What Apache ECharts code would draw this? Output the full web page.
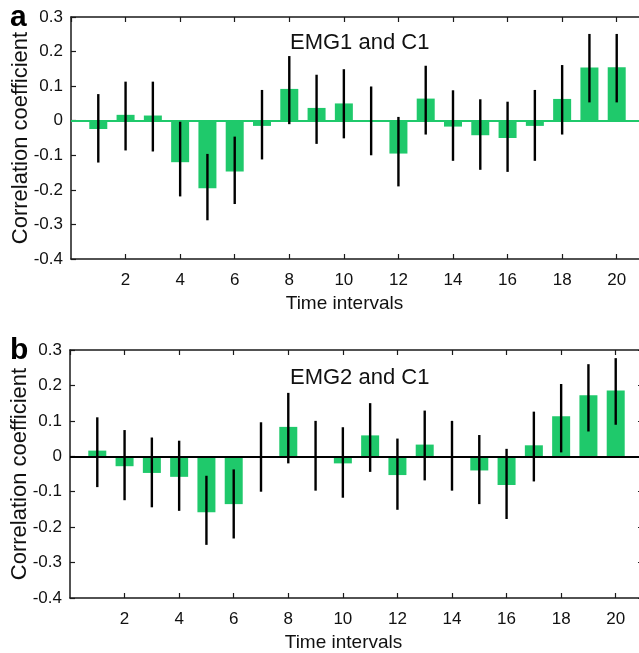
<!DOCTYPE html>
<html>
<head>
<meta charset="utf-8">
<script src="https://cdn.jsdelivr.net/npm/echarts@6/dist/echarts.min.js"></script>
<style>
html,body{margin:0;padding:0;background:#fff;}
#chart{width:639px;height:653px;}
</style>
</head>
<body>
<div id="chart"></div>
<script>
var intervals = [1,2,3,4,5,6,7,8,9,10,11,12,13,14,15,16,17,18,19,20];
var xTicks = [2,4,6,8,10,12,14,16,18,20];
var yTicks = [-0.4,-0.3,-0.2,-0.1,0,0.1,0.2,0.3];

var emg1Values = [-0.024, 0.017, 0.015, -0.120, -0.195, -0.147, -0.015, 0.092, 0.037, 0.050, 0.000, -0.095, 0.064, -0.017, -0.042, -0.050, -0.015, 0.063, 0.154, 0.155];
var emg1Lower  = [-0.121, -0.086, -0.089, -0.219, -0.288, -0.241, -0.112, -0.010, -0.067, -0.051, -0.100, -0.190, -0.040, -0.116, -0.142, -0.148, -0.116, -0.040, 0.053, 0.053];
var emg1Upper  = [0.077, 0.113, 0.113, -0.003, -0.096, -0.046, 0.089, 0.187, 0.133, 0.149, 0.099, 0.011, 0.159, 0.088, 0.062, 0.055, 0.089, 0.161, 0.251, 0.251];

var emg2Values = [0.016, -0.028, -0.047, -0.058, -0.158, -0.135, 0.000, 0.083, 0.000, -0.020, 0.059, -0.053, 0.033, 0.000, -0.040, -0.081, 0.031, 0.113, 0.172, 0.186];
var emg2Lower  = [-0.087, -0.124, -0.144, -0.154, -0.250, -0.232, -0.100, -0.020, -0.097, -0.117, -0.044, -0.151, -0.068, -0.097, -0.135, -0.177, -0.071, 0.011, 0.070, 0.089];
var emg2Upper  = [0.110, 0.074, 0.053, 0.044, -0.055, -0.037, 0.096, 0.179, 0.100, 0.082, 0.150, 0.050, 0.129, 0.100, 0.060, 0.021, 0.126, 0.204, 0.260, 0.277];

var FONT = "'Liberation Sans', Arial, Helvetica, sans-serif";
var GREEN = '#1fc96b';
var AXIS = '#1a1a1a';

var chart = echarts.init(document.getElementById('chart'), null, {renderer: 'canvas'});

function fmtY(v) {
  var r = Math.round(v * 10) / 10;
  if (Math.abs(r) < 1e-9) return '0';
  return r.toFixed(1);
}
function fmtX(v) {
  return xTicks.indexOf(Math.round(v)) >= 0 && Math.abs(v - Math.round(v)) < 1e-9 ? String(Math.round(v)) : '';
}

function xAxes(gi) {
  return [{
    gridIndex: gi, type: 'value', min: 0, max: 21, interval: 2, position: 'bottom',
    axisLine: {show: true, onZero: false, lineStyle: {color: AXIS, width: 1.5}},
    axisTick: {show: true, inside: true, length: 5, lineStyle: {color: AXIS, width: 1.2}},
    axisLabel: {show: true, formatter: fmtX, color: '#111', fontSize: 17, fontFamily: FONT, margin: 13, showMinLabel: false, showMaxLabel: false},
    splitLine: {show: false},
    name: 'Time intervals', nameLocation: 'middle', nameGap: 35,
    nameTextStyle: {color: '#111', fontSize: 19, fontFamily: FONT, padding: [0, 26, 0, 0]}
  }, {
    gridIndex: gi, type: 'value', min: 0, max: 21, interval: 2, position: 'top',
    axisLine: {show: true, onZero: false, lineStyle: {color: AXIS, width: 1.5}},
    axisTick: {show: true, inside: true, length: 5, lineStyle: {color: AXIS, width: 1.2}},
    axisLabel: {show: false}, splitLine: {show: false}
  }];
}
function yAxes(gi) {
  return [{
    gridIndex: gi, type: 'value', min: -0.4, max: 0.3, interval: 0.1, position: 'left',
    axisLine: {show: true, onZero: false, lineStyle: {color: AXIS, width: 1.5}},
    axisTick: {show: true, inside: true, length: 5, lineStyle: {color: AXIS, width: 1.2}},
    axisLabel: {show: true, formatter: fmtY, color: '#111', fontSize: 17, fontFamily: FONT, margin: 8, padding: [4, 0, 0, 0]},
    splitLine: {show: false},
    name: 'Correlation coefficient', nameLocation: 'middle', nameGap: 39, nameRotate: 90,
    nameMoveOverlap: false,
    nameTextStyle: {color: '#111', fontSize: 22, fontFamily: FONT}
  }, {
    gridIndex: gi, type: 'value', min: -0.4, max: 0.3, interval: 0.1, position: 'right',
    axisLine: {show: true, onZero: false, lineStyle: {color: AXIS, width: 1.5}},
    axisTick: {show: true, inside: true, length: 5, lineStyle: {color: AXIS, width: 1.2}},
    axisLabel: {show: false}, splitLine: {show: false}
  }];
}

function barData(vals) { return intervals.map(function (x, i) { return [x, vals[i]]; }); }
function errData(lo, hi) { return intervals.map(function (x, i) { return [x, lo[i], hi[i]]; }); }

function errorRender(params, api) {
  var x = api.value(0);
  var p1 = api.coord([x, api.value(1)]);
  var p2 = api.coord([x, api.value(2)]);
  return {
    type: 'line',
    shape: {x1: p1[0], y1: p1[1], x2: p2[0], y2: p2[1]},
    style: {stroke: '#000', lineWidth: 2.4}
  };
}

function seriesFor(gi, vals, lo, hi, zeroColor) {
  var xi = gi * 2, yi = gi * 2;
  return [{
    type: 'bar', xAxisIndex: xi, yAxisIndex: yi, data: barData(vals),
    barWidth: 18, itemStyle: {color: GREEN}, silent: true, z: 2,
    markLine: {
      silent: true, symbol: 'none', label: {show: false},
      lineStyle: {color: zeroColor, width: 2, type: 'solid'},
      data: [{yAxis: 0}], z: 3
    }
  }, {
    type: 'custom', xAxisIndex: xi, yAxisIndex: yi, data: errData(lo, hi),
    renderItem: errorRender, encode: {x: 0, y: [1, 2]}, silent: true, z: 5, clip: false
  }];
}

var option = {
  backgroundColor: '#fff',
  animation: false,
  grid: [
    {left: 71, top: 17, right: -5, height: 242, containLabel: false, outerBoundsMode: 'none'},
    {left: 70, top: 350, right: -4, height: 248, containLabel: false, outerBoundsMode: 'none'}
  ],
  xAxis: xAxes(0).concat(xAxes(1)),
  yAxis: yAxes(0).concat(yAxes(1)),
  series: seriesFor(0, emg1Values, emg1Lower, emg1Upper, GREEN)
    .concat(seriesFor(1, emg2Values, emg2Lower, emg2Upper, '#000')),
  graphic: [
    {type: 'text', left: 290, top: 32, style: {text: 'EMG1 and C1', font: '22px ' + FONT, fill: '#111'}},
    {type: 'text', left: 290, top: 367, style: {text: 'EMG2 and C1', font: '22px ' + FONT, fill: '#111'}},
    {type: 'text', left: 10, top: 3, style: {text: 'a', font: 'bold 30px ' + FONT, fill: '#000'}},
    {type: 'text', left: 10, top: 336, style: {text: 'b', font: 'bold 30px ' + FONT, fill: '#000'}}
  ]
};
chart.setOption(option);
</script>
</body>
</html>
